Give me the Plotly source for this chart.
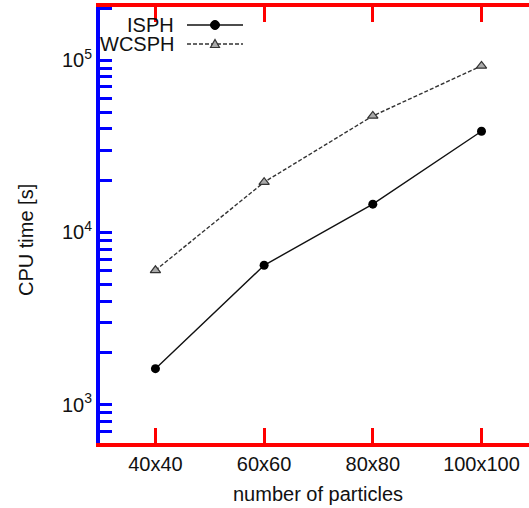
import plotly.graph_objects as go

categories = ["40x40", "60x60", "80x80", "100x100"]
isph = [1620, 6450, 14600, 38700]
wcsph = [6030, 19600, 47500, 92700]
decades = [2, 3, 4, 5]
major_vals = [1e3, 1e4, 1e5]
major_text = ["10<sup>3</sup>", "10<sup>4</sup>", "10<sup>5</sup>"]

tick_vals = []
tick_text = []
for e in decades:
    for m in range(1, 10):
        v = m * 10 ** e
        tick_vals.append(v)
        tick_text.append(major_text[major_vals.index(v)] if v in major_vals else "")

W, H = 529, 508
L, R, T, B = 100, 0, 7, 65
FONT = "Liberation Sans"

fig = go.Figure()
fig.add_trace(go.Scatter(
    x=categories, y=isph, mode="lines+markers", name="ISPH",
    line=dict(color="#111", width=1.4),
    marker=dict(symbol="circle", size=9, color="black"),
    showlegend=False))
fig.add_trace(go.Scatter(
    x=categories, y=wcsph, mode="lines+markers", name="WCSPH",
    line=dict(color="#333", width=1.4, dash="4px,2px"),
    marker=dict(symbol="triangle-up", size=9, color="#aaa",
                line=dict(color="#333", width=1.2)),
    showlegend=False))

pw, ph = W - L - R, H - T - B
def px(x):
    return (x - L) / pw
def py(y):
    return (H - B - y) / ph

shapes = []
annotations = []
for i, (name, dash) in enumerate([("ISPH", "solid"), ("WCSPH", "4px,2px")]):
    yy = 25 + 19 * i
    shapes.append(dict(type="line", xref="paper", yref="paper",
                       x0=px(187), x1=px(243), y0=py(yy), y1=py(yy),
                       line=dict(color="#111" if i == 0 else "#333", width=1.4, dash=dash)))
    annotations.append(dict(text=name, xref="paper", yref="paper", x=px(176), y=py(yy),
                            xanchor="right", yanchor="middle", showarrow=False,
                            font=dict(family=FONT, size=20, color="#111")))
shapes.append(dict(type="circle", xref="paper", yref="paper",
                   x0=px(215 - 4.5), x1=px(215 + 4.5), y0=py(25 + 4.5), y1=py(25 - 4.5),
                   fillcolor="black", line=dict(color="black", width=1)))
tri = "M {:.5f} {:.5f} L {:.5f} {:.5f} L {:.5f} {:.5f} Z".format(
    px(210.5), py(47.5), px(219.5), py(47.5), px(215), py(39.5))
shapes.append(dict(type="path", xref="paper", yref="paper", path=tri,
                   fillcolor="#aaa", line=dict(color="#333", width=1.2)))

annotations.append(dict(text="number of particles", xref="x", yref="paper", x=1.5, y=py(494),
                        xanchor="center", yanchor="middle", showarrow=False,
                        font=dict(family=FONT, size=20, color="#111")))
annotations.append(dict(text="CPU time [s]", xref="paper", yref="paper", x=px(26), y=py(240),
                        xanchor="center", yanchor="middle", showarrow=False, textangle=-90,
                        font=dict(family=FONT, size=20, color="#111")))

fig.update_layout(
    width=W, height=H,
    margin=dict(l=L, r=R, t=T, b=B),
    plot_bgcolor="white",
    shapes=shapes, annotations=annotations,
    xaxis=dict(type="category", range=[-0.51, 3.437],
               showline=True, linecolor="red", linewidth=4, mirror="ticks",
               ticks="inside", ticklen=15, tickwidth=3, tickcolor="red",
               tickfont=dict(family=FONT, size=20, color="#111")),
    yaxis=dict(type="log", range=[2.778, 5.309],
               tickmode="array", tickvals=tick_vals, ticktext=tick_text,
               showline=True, linecolor="blue", linewidth=4,
               ticks="inside", ticklen=12, tickwidth=3, tickcolor="blue",
               tickfont=dict(family=FONT, size=20, color="#111")),
)

fig.write_html("out.html")
